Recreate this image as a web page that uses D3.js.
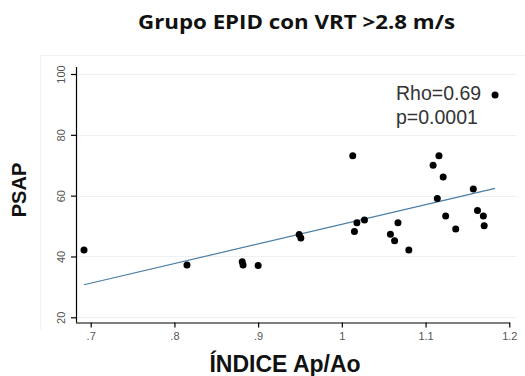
<!DOCTYPE html>
<html><head><meta charset="utf-8">
<script src="https://cdn.jsdelivr.net/npm/d3@7"></script>
<style>body{margin:0;background:#fff}svg{display:block}</style>
</head><body>
<svg id="c" width="525" height="376"></svg>
<script>
const xValues = [0.692, 0.815, 0.881, 0.882, 0.900, 0.949, 0.951, 1.013, 1.015, 1.018, 1.027, 1.058, 1.063, 1.067, 1.080, 1.109, 1.114, 1.116, 1.121, 1.124, 1.136, 1.157, 1.162, 1.169, 1.170, 1.183];
const yValues = [42.1, 37.2, 38.3, 37.2, 37.0, 47.2, 46.1, 73.1, 48.2, 51.1, 52.0, 47.3, 45.2, 51.1, 42.1, 70.0, 59.1, 73.1, 66.1, 53.3, 49.0, 62.2, 55.1, 53.3, 50.1, 93.1];
const fitX = [0.692, 1.183];
const fitY = [30.7, 62.4];
const xTicks = [0.7, 0.8, 0.9, 1.0, 1.1, 1.2];
const xTickLabels = [".7", ".8", ".9", "1", "1.1", "1.2"];
const yTicks = [20, 40, 60, 80, 100];
const titleText = "Grupo EPID con VRT >2.8 m/s";
const xTitle = "ÍNDICE Ap/Ao";
const yTitle = "PSAP";
const annot = ["Rho=0.69", "p=0.0001"];

const svg = d3.select("#c");
const x = d3.scaleLinear().domain([0.7, 1.2]).range([90.7, 509.3]);
const y = d3.scaleLinear().domain([20, 100]).range([317.3, 74]);
const axisY0 = 322.5, axisX0 = 76;

// faint outer frame
svg.append("path").attr("d", "M40.5,330 V55.5 H525").attr("fill", "none").attr("stroke", "#eef3f3").attr("stroke-width", 1);

// gridlines
svg.append("g").selectAll("line").data(yTicks).join("line")
  .attr("x1", axisX0).attr("x2", 517)
  .attr("y1", d => Math.round(y(d)) + 0.5).attr("y2", d => Math.round(y(d)) + 0.5)
  .attr("stroke", "#edf1f1").attr("stroke-width", 1);

// y axis
const yAxis = svg.append("g").attr("transform", `translate(${axisX0},0)`)
  .call(d3.axisLeft(y).tickValues(yTicks).tickSize(5).tickSizeOuter(0).tickFormat(d3.format("d")));
yAxis.select(".domain").attr("d", `M0.5,67V${axisY0}`).attr("stroke", "#000");
yAxis.selectAll(".tick line").attr("stroke", "#000");
yAxis.selectAll(".tick text")
  .attr("transform", "rotate(-90)").attr("x", 0).attr("y", -11).attr("dy", "0")
  .attr("text-anchor", "middle")
  .attr("font-family", "Liberation Sans, Arial, sans-serif").attr("font-size", 11).attr("fill", "#555");

// x axis
const xAxis = svg.append("g").attr("transform", `translate(0,${axisY0})`)
  .call(d3.axisBottom(x).tickValues(xTicks).tickSize(5).tickSizeOuter(0).tickFormat((d, i) => xTickLabels[i]));
xAxis.select(".domain").attr("d", `M${axisX0},0.5H510`).attr("stroke", "#000");
xAxis.selectAll(".tick line").attr("stroke", "#000");
xAxis.selectAll(".tick text").attr("y", 10)
  .attr("font-family", "Liberation Sans, Arial, sans-serif").attr("font-size", 11).attr("fill", "#555");
svg.selectAll(".domain, .tick line").attr("stroke-width", 1.2);

// fit line
svg.append("line")
  .attr("x1", x(fitX[0])).attr("y1", y(fitY[0]))
  .attr("x2", x(fitX[1])).attr("y2", y(fitY[1]))
  .attr("stroke", "#4a7ea6").attr("stroke-width", 1.2);

// points
svg.append("g").selectAll("circle").data(xValues).join("circle")
  .attr("cx", d => x(d)).attr("cy", (d, i) => y(yValues[i])).attr("r", 3.5).attr("fill", "#000");

// annotation
svg.append("g").selectAll("text").data(annot).join("text")
  .attr("x", 396).attr("y", (d, i) => 100 + i * 24)
  .attr("font-family", "Liberation Sans, Arial, sans-serif").attr("font-size", 19.5).attr("fill", "#333")
  .text(d => d);

// titles
svg.append("text").attr("x", 138).attr("y", 28.5)
  .attr("textLength", 317).attr("lengthAdjust", "spacingAndGlyphs")
  .attr("font-family", "Open Sans, sans-serif").attr("font-weight", 700).attr("font-size", 19.5)
  .attr("fill", "#111").text(titleText);
svg.append("text").attr("x", 285).attr("y", 372).attr("text-anchor", "middle")
  .attr("font-family", "Liberation Sans, Arial, sans-serif").attr("font-weight", 700).attr("font-size", 23)
  .attr("fill", "#111").text(xTitle);
svg.append("text").attr("transform", "translate(26,190) rotate(-90)").attr("text-anchor", "middle")
  .attr("font-family", "Liberation Sans, Arial, sans-serif").attr("font-weight", 700).attr("font-size", 20)
  .attr("fill", "#111").text(yTitle);
</script>
</body></html>
